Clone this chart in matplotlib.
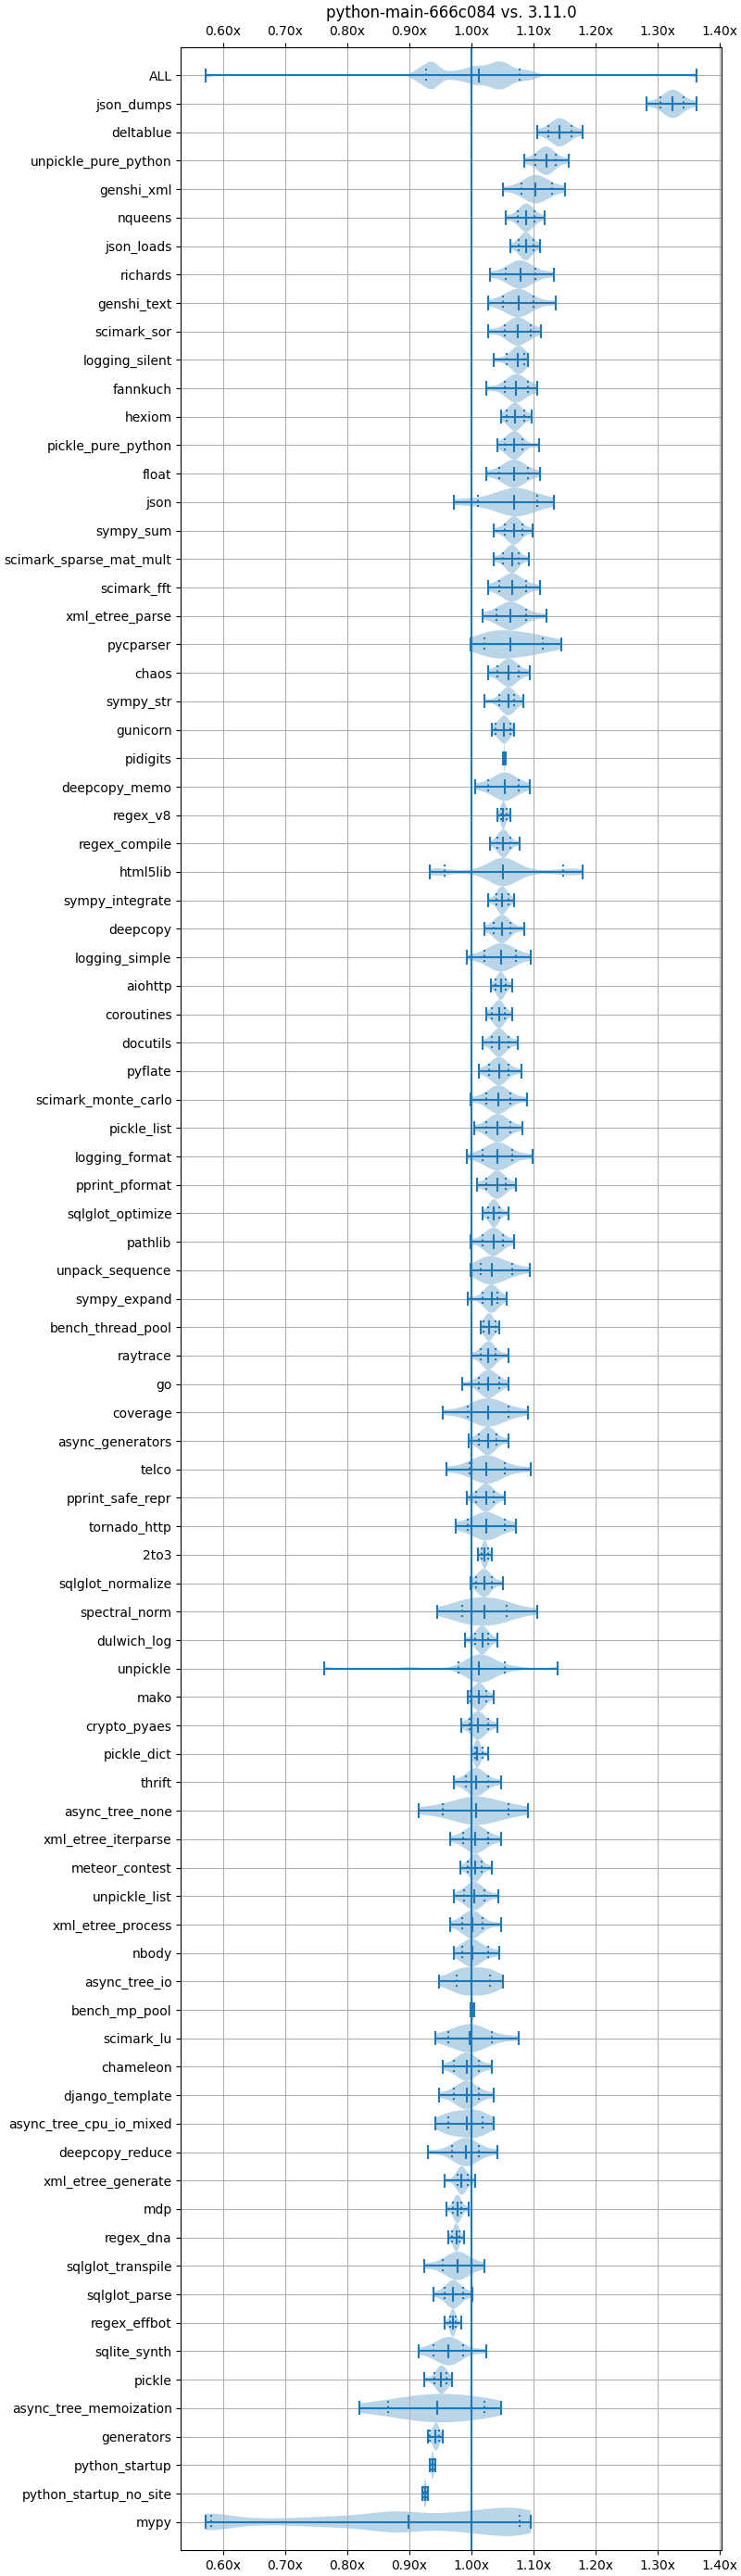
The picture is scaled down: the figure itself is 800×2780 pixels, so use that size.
import matplotlib
matplotlib.use("Agg")
import matplotlib.pyplot as plt
from matplotlib.ticker import FuncFormatter, MultipleLocator

title = "python-main-666c084 vs. 3.11.0"

v_ALL = [0.572, 0.910, 0.916, 0.921, 0.927, 0.930, 0.933, 0.936, 0.938, 0.940, 0.943, 0.947, 0.956, 0.968,
         0.978, 0.986, 0.993, 0.999, 1.004, 1.008, 1.012, 1.017, 1.022, 1.027, 1.031, 1.035, 1.038, 1.041,
         1.044, 1.047, 1.050, 1.053, 1.056, 1.060, 1.064, 1.069, 1.078, 1.085, 1.093, 1.103, 1.364]
v_json_dumps = [1.283, 1.3055, 1.3143, 1.3195, 1.3231, 1.325, 1.3268, 1.330, 1.3349, 1.343, 1.364]
v_deltablue = [1.106, 1.124, 1.1326, 1.1377, 1.1411, 1.143, 1.1449, 1.1483, 1.1535, 1.162, 1.179]
v_unpickle_pure_python = [1.085, 1.103, 1.1111, 1.116, 1.1192, 1.121, 1.1225, 1.1252, 1.1293, 1.136, 1.158]
v_genshi_xml = [1.052, 1.081, 1.0914, 1.0976, 1.1017, 1.104, 1.1066, 1.1113, 1.1183, 1.130, 1.152]
v_nqueens = [1.056, 1.075, 1.0813, 1.0851, 1.0876, 1.089, 1.0903, 1.0926, 1.0962, 1.102, 1.119]
v_json_loads = [1.063, 1.076, 1.0814, 1.0846, 1.0868, 1.088, 1.0892, 1.0914, 1.0946, 1.100, 1.111]
v_richards = [1.031, 1.056, 1.0664, 1.0726, 1.0767, 1.079, 1.0815, 1.086, 1.0928, 1.104, 1.133]
v_genshi_text = [1.028, 1.052, 1.0628, 1.0693, 1.0736, 1.076, 1.0785, 1.083, 1.0898, 1.101, 1.136]
v_scimark_sor = [1.028, 1.055, 1.064, 1.0694, 1.073, 1.075, 1.0771, 1.0809, 1.0866, 1.096, 1.112]
v_logging_silent = [1.037, 1.057, 1.066, 1.071, 1.074, 1.075, 1.077, 1.079, 1.082, 1.085, 1.091]
v_fannkuch = [1.025, 1.054, 1.0621, 1.067, 1.0702, 1.072, 1.074, 1.0776, 1.083, 1.092, 1.106]
v_hexiom = [1.049, 1.058, 1.0639, 1.0674, 1.0697, 1.071, 1.0725, 1.0752, 1.0793, 1.086, 1.097]
v_pickle_pure_python = [1.043, 1.055, 1.0618, 1.0658, 1.0685, 1.070, 1.0713, 1.0736, 1.0772, 1.083, 1.110]
v_float = [1.025, 1.046, 1.0564, 1.0626, 1.0667, 1.069, 1.0712, 1.0752, 1.0811, 1.091, 1.111]
v_json = [0.972, 1.011, 1.045, 1.060, 1.066, 1.069, 1.073, 1.079, 1.088, 1.106, 1.134]
v_sympy_sum = [1.037, 1.055, 1.0613, 1.0651, 1.0676, 1.069, 1.0703, 1.0726, 1.0762, 1.082, 1.099]
v_scimark_sparse_mat_mult = [1.037, 1.052, 1.0583, 1.0621, 1.0646, 1.066, 1.067, 1.0688, 1.0715, 1.076, 1.093]
v_scimark_fft = [1.028, 1.046, 1.055, 1.0604, 1.064, 1.066, 1.0682, 1.0722, 1.0781, 1.088, 1.111]
v_xml_etree_parse = [1.018, 1.041, 1.0514, 1.0576, 1.0617, 1.064, 1.0665, 1.071, 1.0778, 1.089, 1.122]
v_pycparser = [0.9985, 1.021, 1.033, 1.040, 1.048, 1.063, 1.072, 1.088, 1.102, 1.116, 1.146]
v_chaos = [1.027, 1.042, 1.0506, 1.0557, 1.0591, 1.061, 1.0625, 1.0652, 1.0693, 1.076, 1.094]
v_sympy_str = [1.022, 1.046, 1.0523, 1.0561, 1.0586, 1.060, 1.061, 1.0628, 1.0655, 1.070, 1.084]
v_gunicorn = [1.034, 1.040, 1.0459, 1.0494, 1.0517, 1.053, 1.054, 1.0558, 1.0585, 1.063, 1.070]
v_pidigits = [1.0515, 1.0525, 1.053, 1.0532, 1.0534, 1.0535, 1.0536, 1.0539, 1.0542, 1.0548, 1.0557]
v_deepcopy_memo = [1.007, 1.027, 1.0392, 1.0464, 1.0513, 1.054, 1.0562, 1.0602, 1.0661, 1.076, 1.094]
v_regex_v8 = [1.043, 1.048, 1.0498, 1.0509, 1.0516, 1.052, 1.0526, 1.0537, 1.0553, 1.058, 1.063]
v_regex_compile = [1.030, 1.043, 1.047, 1.0495, 1.0511, 1.052, 1.0531, 1.0551, 1.058, 1.063, 1.078]
v_html5lib = [0.934, 0.945, 0.958, 1.000, 1.025, 1.035, 1.040, 1.044, 1.047, 1.050, 1.052, 1.054, 1.057,
              1.060, 1.064, 1.070, 1.080, 1.110, 1.149, 1.160, 1.180]
v_sympy_integrate = [1.028, 1.041, 1.045, 1.0475, 1.0491, 1.050, 1.051, 1.0528, 1.0555, 1.060, 1.070]
v_deepcopy = [1.021, 1.036, 1.0423, 1.0461, 1.0486, 1.050, 1.0514, 1.0539, 1.0577, 1.064, 1.085]
v_logging_simple = [0.9925, 1.021, 1.0332, 1.0404, 1.0453, 1.048, 1.0505, 1.055, 1.0618, 1.073, 1.096]
v_aiohttp = [1.032, 1.040, 1.0436, 1.0458, 1.0472, 1.048, 1.0488, 1.0502, 1.0524, 1.056, 1.066]
v_coroutines = [1.024, 1.034, 1.039, 1.0419, 1.0439, 1.045, 1.046, 1.0478, 1.0505, 1.055, 1.067]
v_docutils = [1.018, 1.033, 1.0384, 1.0416, 1.0438, 1.045, 1.0465, 1.0492, 1.0533, 1.060, 1.075]
v_pyflate = [1.013, 1.029, 1.0362, 1.0405, 1.0434, 1.045, 1.0465, 1.0492, 1.0533, 1.060, 1.081]
v_scimark_monte_carlo = [0.9985, 1.024, 1.033, 1.0384, 1.042, 1.044, 1.0459, 1.0493, 1.0545, 1.063, 1.090]
v_pickle_list = [1.0045, 1.025, 1.0331, 1.038, 1.0412, 1.043, 1.045, 1.0486, 1.054, 1.063, 1.082]
v_logging_format = [0.9925, 1.019, 1.0298, 1.0363, 1.0406, 1.043, 1.0453, 1.0494, 1.0557, 1.066, 1.099]
v_pprint_pformat = [1.009, 1.025, 1.0327, 1.0372, 1.0403, 1.042, 1.0434, 1.0459, 1.0497, 1.056, 1.072]
v_sqlglot_optimize = [1.018, 1.028, 1.032, 1.0345, 1.0361, 1.037, 1.0379, 1.0395, 1.042, 1.046, 1.060]
v_pathlib = [0.9985, 1.019, 1.0267, 1.0312, 1.0343, 1.036, 1.0376, 1.0405, 1.0448, 1.052, 1.069]
v_unpack_sequence = [0.9985, 1.016, 1.021, 1.025, 1.029, 1.034, 1.040, 1.048, 1.058, 1.067, 1.094]
v_sympy_expand = [0.994, 1.019, 1.0253, 1.0291, 1.0316, 1.033, 1.034, 1.0358, 1.0385, 1.043, 1.058]
v_bench_thread_pool = [1.015, 1.020, 1.024, 1.0265, 1.0281, 1.029, 1.030, 1.0318, 1.0345, 1.039, 1.045]
v_raytrace = [1.000, 1.016, 1.0214, 1.0246, 1.0268, 1.028, 1.0292, 1.0314, 1.0346, 1.040, 1.061]
v_go = [0.985, 1.012, 1.0192, 1.0235, 1.0264, 1.028, 1.0297, 1.0328, 1.0374, 1.045, 1.061]
v_coverage = [0.954, 0.994, 1.0089, 1.0178, 1.0237, 1.027, 1.0303, 1.0362, 1.0452, 1.060, 1.091]
v_async_generators = [0.9955, 1.012, 1.0188, 1.0228, 1.0255, 1.027, 1.0284, 1.0309, 1.0347, 1.041, 1.061]
v_telco = [0.961, 0.9975, 1.0099, 1.0173, 1.0223, 1.025, 1.028, 1.0334, 1.0415, 1.055, 1.0955]
v_pprint_safe_repr = [0.9925, 1.008, 1.0152, 1.0195, 1.0224, 1.024, 1.0253, 1.0276, 1.0312, 1.037, 1.054]
v_tornado_http = [0.975, 0.994, 1.0075, 1.0156, 1.021, 1.024, 1.027, 1.0324, 1.0405, 1.054, 1.072]
v_2to3 = [1.011, 1.017, 1.0193, 1.0206, 1.0215, 1.022, 1.0226, 1.0237, 1.0253, 1.028, 1.034]
v_sqlglot_normalize = [0.9985, 1.008, 1.0139, 1.0174, 1.0197, 1.021, 1.0223, 1.0246, 1.0282, 1.034, 1.051]
v_spectral_norm = [0.945, 0.985, 0.990, 0.996, 1.005, 1.021, 1.035, 1.042, 1.048, 1.058, 1.107]
v_dulwich_log = [0.9895, 1.006, 1.0114, 1.0146, 1.0168, 1.018, 1.019, 1.0208, 1.0235, 1.028, 1.043]
v_unpickle = [0.764, 0.900, 0.979, 0.988, 0.995, 1.001, 1.005, 1.008, 1.010, 1.012, 1.013, 1.018, 1.022,
              1.026, 1.029, 1.032, 1.036, 1.044, 1.055, 1.075, 1.139]
v_mako = [0.994, 0.9985, 1.005, 1.0089, 1.0116, 1.013, 1.0141, 1.0161, 1.0191, 1.024, 1.036]
v_crypto_pyaes = [0.9835, 0.998, 1.0039, 1.0074, 1.0097, 1.011, 1.0126, 1.0155, 1.0198, 1.027, 1.042]
v_pickle_dict = [1.001, 1.006, 1.0078, 1.0089, 1.0096, 1.010, 1.0108, 1.0122, 1.0144, 1.018, 1.028]
v_thrift = [0.972, 0.991, 0.9987, 1.0032, 1.0063, 1.008, 1.0099, 1.0133, 1.0185, 1.027, 1.049]
v_async_tree_none = [0.915, 0.955, 0.9789, 0.9932, 1.0027, 1.008, 1.0133, 1.0228, 1.0372, 1.061, 1.091]
v_xml_etree_iterparse = [0.966, 0.987, 0.996, 1.0014, 1.005, 1.007, 1.0091, 1.0129, 1.0186, 1.028, 1.048]
v_meteor_contest = [0.982, 0.995, 1.0004, 1.0036, 1.0058, 1.007, 1.008, 1.0098, 1.0125, 1.017, 1.033]
v_unpickle_list = [0.973, 0.988, 0.9957, 1.0002, 1.0033, 1.005, 1.0067, 1.0098, 1.0144, 1.022, 1.044]
v_xml_etree_process = [0.966, 0.985, 0.9924, 0.9969, 0.9999, 1.0015, 1.0033, 1.0064, 1.0111, 1.019, 1.048]
v_nbody = [0.973, 0.986, 0.993, 0.9972, 1.000, 1.0015, 1.0042, 1.0089, 1.0161, 1.028, 1.045]
v_async_tree_io = [0.949, 0.977, 0.980, 0.985, 0.995, 1.0005, 1.015, 1.025, 1.029, 1.031, 1.052]
v_bench_mp_pool = [0.9995, 1.0005, 1.0012, 1.0016, 1.0018, 1.002, 1.0022, 1.0025, 1.0029, 1.0035, 1.0045]
v_scimark_lu = [0.942, 0.963, 0.9788, 0.9882, 0.9945, 0.998, 1.0015, 1.0078, 1.0173, 1.033, 1.076]
v_chameleon = [0.954, 0.973, 0.9818, 0.987, 0.9906, 0.9925, 0.9945, 0.998, 1.0032, 1.012, 1.034]
v_django_template = [0.948, 0.972, 0.9812, 0.9868, 0.9905, 0.9925, 0.9946, 0.9982, 1.0038, 1.013, 1.037]
v_async_tree_cpu_io_mixed = [0.943, 0.963, 0.966, 0.972, 0.985, 0.9925, 1.003, 1.009, 1.013, 1.018, 1.036]
v_deepcopy_reduce = [0.930, 0.970, 0.9795, 0.9851, 0.9889, 0.991, 0.9932, 0.9972, 1.0031, 1.013, 1.043]
v_xml_etree_generate = [0.958, 0.978, 0.9809, 0.9827, 0.9839, 0.9845, 0.9855, 0.9872, 0.9897, 0.994, 1.006]
v_mdp = [0.961, 0.971, 0.9742, 0.976, 0.9773, 0.978, 0.9787, 0.9798, 0.9816, 0.9845, 0.9955]
v_regex_dna = [0.964, 0.970, 0.9727, 0.9743, 0.9754, 0.976, 0.9766, 0.9775, 0.979, 0.9815, 0.988]
v_sqlglot_transpile = [0.925, 0.954, 0.9648, 0.9713, 0.9756, 0.978, 0.9803, 0.9844, 0.9907, 1.001, 1.022]
v_sqlglot_parse = [0.939, 0.957, 0.9635, 0.9674, 0.9701, 0.9715, 0.973, 0.9757, 0.9798, 0.9865, 1.0025]
v_regex_effbot = [0.958, 0.966, 0.968, 0.9692, 0.9701, 0.9705, 0.971, 0.9718, 0.973, 0.975, 0.9835]
v_sqlite_synth = [0.915, 0.939, 0.9503, 0.957, 0.9615, 0.964, 0.9663, 0.9703, 0.9764, 0.9865, 1.025]
v_pickle = [0.924, 0.9405, 0.946, 0.949, 0.951, 0.952, 0.953, 0.955, 0.957, 0.961, 0.969]
v_async_tree_memoization = [0.820, 0.866, 0.895, 0.915, 0.935, 0.946, 0.960, 0.985, 1.005, 1.021, 1.048]
v_generators = [0.930, 0.934, 0.939, 0.941, 0.9425, 0.943, 0.9438, 0.945, 0.946, 0.948, 0.954]
v_python_startup = [0.934, 0.9355, 0.9368, 0.9374, 0.9378, 0.938, 0.9383, 0.9388, 0.9395, 0.9405, 0.942]
v_python_startup_no_site = [0.922, 0.9235, 0.9246, 0.9252, 0.9257, 0.926, 0.9263, 0.9268, 0.9275, 0.9285, 0.930]
v_mypy = [0.572, 0.576, 0.581, 0.650, 0.720, 0.770, 0.810, 0.845, 0.870, 0.885, 0.8985, 0.935, 0.965,
          0.990, 1.010, 1.030, 1.045, 1.065, 1.0786, 1.090, 1.0965]

benchmarks = [
    "ALL", "json_dumps", "deltablue", "unpickle_pure_python", "genshi_xml", "nqueens", "json_loads",
    "richards", "genshi_text", "scimark_sor", "logging_silent", "fannkuch", "hexiom", "pickle_pure_python",
    "float", "json", "sympy_sum", "scimark_sparse_mat_mult", "scimark_fft", "xml_etree_parse", "pycparser",
    "chaos", "sympy_str", "gunicorn", "pidigits", "deepcopy_memo", "regex_v8", "regex_compile", "html5lib",
    "sympy_integrate", "deepcopy", "logging_simple", "aiohttp", "coroutines", "docutils", "pyflate",
    "scimark_monte_carlo", "pickle_list", "logging_format", "pprint_pformat", "sqlglot_optimize", "pathlib",
    "unpack_sequence", "sympy_expand", "bench_thread_pool", "raytrace", "go", "coverage", "async_generators",
    "telco", "pprint_safe_repr", "tornado_http", "2to3", "sqlglot_normalize", "spectral_norm", "dulwich_log",
    "unpickle", "mako", "crypto_pyaes", "pickle_dict", "thrift", "async_tree_none", "xml_etree_iterparse",
    "meteor_contest", "unpickle_list", "xml_etree_process", "nbody", "async_tree_io", "bench_mp_pool",
    "scimark_lu", "chameleon", "django_template", "async_tree_cpu_io_mixed", "deepcopy_reduce",
    "xml_etree_generate", "mdp", "regex_dna", "sqlglot_transpile", "sqlglot_parse", "regex_effbot",
    "sqlite_synth", "pickle", "async_tree_memoization", "generators", "python_startup",
    "python_startup_no_site", "mypy",
]

samples = [
    v_ALL, v_json_dumps, v_deltablue, v_unpickle_pure_python, v_genshi_xml, v_nqueens, v_json_loads,
    v_richards, v_genshi_text, v_scimark_sor, v_logging_silent, v_fannkuch, v_hexiom, v_pickle_pure_python,
    v_float, v_json, v_sympy_sum, v_scimark_sparse_mat_mult, v_scimark_fft, v_xml_etree_parse, v_pycparser,
    v_chaos, v_sympy_str, v_gunicorn, v_pidigits, v_deepcopy_memo, v_regex_v8, v_regex_compile, v_html5lib,
    v_sympy_integrate, v_deepcopy, v_logging_simple, v_aiohttp, v_coroutines, v_docutils, v_pyflate,
    v_scimark_monte_carlo, v_pickle_list, v_logging_format, v_pprint_pformat, v_sqlglot_optimize, v_pathlib,
    v_unpack_sequence, v_sympy_expand, v_bench_thread_pool, v_raytrace, v_go, v_coverage, v_async_generators,
    v_telco, v_pprint_safe_repr, v_tornado_http, v_2to3, v_sqlglot_normalize, v_spectral_norm, v_dulwich_log,
    v_unpickle, v_mako, v_crypto_pyaes, v_pickle_dict, v_thrift, v_async_tree_none, v_xml_etree_iterparse,
    v_meteor_contest, v_unpickle_list, v_xml_etree_process, v_nbody, v_async_tree_io, v_bench_mp_pool,
    v_scimark_lu, v_chameleon, v_django_template, v_async_tree_cpu_io_mixed, v_deepcopy_reduce,
    v_xml_etree_generate, v_mdp, v_regex_dna, v_sqlglot_transpile, v_sqlglot_parse, v_regex_effbot,
    v_sqlite_synth, v_pickle, v_async_tree_memoization, v_generators, v_python_startup,
    v_python_startup_no_site, v_mypy,
]

# kernel bandwidth factors (None = Scott's rule)
bw_factors = {"ALL": 0.08, "html5lib": 0.3, "unpickle": 0.2, "mypy": 0.2}

fig = plt.figure(figsize=(8, 27.8), dpi=100)
ax = fig.add_axes([195.3 / 800, 1 - 2752.3 / 2780, (779 - 195.3) / 800, (2752.3 - 50.7) / 2780])

n = len(benchmarks)


def draw_violin(vals, pos, bw):
    kw = dict(positions=[pos], widths=1.0, showmeans=False, showmedians=True,
              showextrema=True, quantiles=[[0.1, 0.9]], bw_method=bw)
    try:
        return ax.violinplot([vals], orientation="horizontal", **kw)
    except TypeError:
        return ax.violinplot([vals], vert=False, **kw)


for i, (name, vals) in enumerate(zip(benchmarks, samples)):
    ax.set_prop_cycle(None)
    parts = draw_violin(vals, i + 1, bw_factors.get(name))
    parts["cquantiles"].set_linestyle(":")

ax.axvline(1.0)
ax.set_yticks(range(1, n + 1))
ax.set_yticklabels(benchmarks)
ax.set_ylim(n + 1, 0)
ax.xaxis.set_major_locator(MultipleLocator(0.1))
ax.xaxis.set_major_formatter(FuncFormatter(lambda x, p: f"{x:.2f}x"))
ax.tick_params(axis="x", top=True, labeltop=True, bottom=True, labelbottom=True)
ax.grid(True)
ax.set_title(title)

fig.savefig("out.png", dpi=100)
